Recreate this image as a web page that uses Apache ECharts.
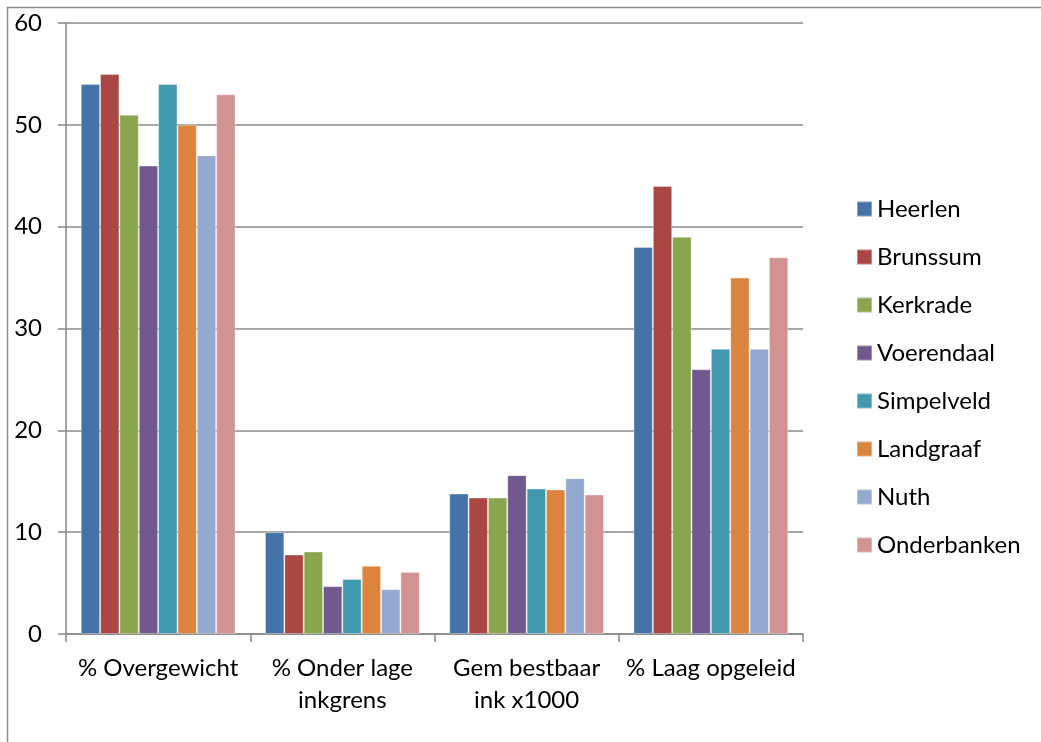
<!DOCTYPE html>
<html>
<head>
<meta charset="utf-8">
<script src="https://cdn.jsdelivr.net/npm/echarts@6/dist/echarts.min.js"></script>
<style>
  html, body { margin: 0; padding: 0; background: #ffffff; }
  #chart { width: 1041px; height: 742px; }
</style>
</head>
<body>
<div id="chart"></div>
<script>
// Indicators per municipality
const categories = ['% Overgewicht', '% Onder lage\ninkgrens', 'Gem bestbaar\nink x1000', '% Laag opgeleid'];
const yTicks = [0, 10, 20, 30, 40, 50, 60];

const heerlen     = [54, 10.0, 13.8, 38];
const brunssum    = [55, 7.8, 13.4, 44];
const kerkrade    = [51, 8.1, 13.4, 39];
const voerendaal  = [46, 4.7, 15.6, 26];
const simpelveld  = [54, 5.4, 14.3, 28];
const landgraaf   = [50, 6.7, 14.2, 35];
const nuth        = [47, 4.4, 15.3, 28];
const onderbanken = [53, 6.1, 13.7, 37];

const seriesDefs = [
  { name: 'Heerlen',     data: heerlen,     color: '#4572A7' },
  { name: 'Brunssum',    data: brunssum,    color: '#AA4643' },
  { name: 'Kerkrade',    data: kerkrade,    color: '#89A54E' },
  { name: 'Voerendaal',  data: voerendaal,  color: '#71588F' },
  { name: 'Simpelveld',  data: simpelveld,  color: '#4198AF' },
  { name: 'Landgraaf',   data: landgraaf,   color: '#DB843D' },
  { name: 'Nuth',        data: nuth,        color: '#93A9CF' },
  { name: 'Onderbanken', data: onderbanken, color: '#D19392' }
];

const font = 'Lato, "Open Sans", sans-serif';
const chart = echarts.init(document.getElementById('chart'), null, { renderer: 'canvas' });

chart.setOption({
  backgroundColor: '#ffffff',
  animation: false,
  textStyle: { fontFamily: font },
  graphic: [{
    type: 'rect',
    shape: { x: 7.5, y: 7.5, width: 1100, height: 800 },
    style: { fill: 'none', stroke: '#8c8c8c', lineWidth: 1.5 },
    silent: true
  }],
  grid: { left: 66, top: 23, right: 238, bottom: 108, containLabel: false },
  legend: {
    orient: 'vertical',
    left: 856,
    top: 197,
    padding: 0,
    itemWidth: 15,
    itemHeight: 15,
    itemGap: 24,
    icon: 'rect',
    textStyle: { fontSize: 24, color: '#000000', fontFamily: font },
    data: seriesDefs.map(s => s.name)
  },
  xAxis: {
    type: 'category',
    data: categories,
    axisLine: { lineStyle: { color: '#868686', width: 1.5 } },
    axisTick: { show: true, length: 8, lineStyle: { color: '#868686', width: 1.5 } },
    axisLabel: {
      fontSize: 24, color: '#000000', fontFamily: font,
      margin: 18, lineHeight: 32, interval: 0
    },
    splitLine: { show: false }
  },
  yAxis: {
    type: 'value',
    min: yTicks[0],
    max: yTicks[yTicks.length - 1],
    interval: 10,
    axisLine: { show: true, lineStyle: { color: '#868686', width: 1.5 } },
    axisTick: { show: true, length: 8, lineStyle: { color: '#868686', width: 1.5 } },
    axisLabel: { fontSize: 24, color: '#000000', fontFamily: font, margin: 24 },
    splitLine: { show: true, lineStyle: { color: '#8a8a8a', width: 1.5 } }
  },
  series: seriesDefs.map(s => ({
    name: s.name,
    type: 'bar',
    data: s.data,
    barGap: '0%',
    barCategoryGap: '16%',
    itemStyle: { color: s.color, borderColor: 'rgba(255,255,255,0.35)', borderWidth: 1 }
  }))
});
</script>
</body>
</html>
